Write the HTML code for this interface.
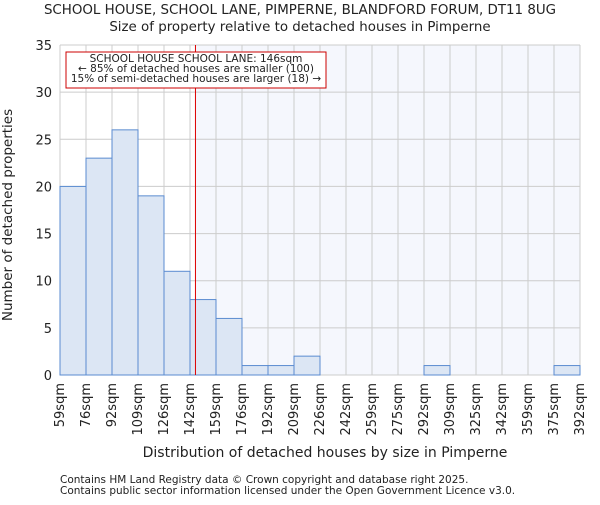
<!DOCTYPE html>
<html><head><meta charset="utf-8"><style>
body{margin:0;background:#fff;}
svg text{font-family:"DejaVu Sans","Liberation Sans",sans-serif;fill:#222;}
</style></head><body>
<svg width="600" height="500" id="chart">
<text x="300" y="14" text-anchor="middle" font-size="13.4">SCHOOL HOUSE, SCHOOL LANE, PIMPERNE, BLANDFORD FORUM, DT11 8UG</text>
<text x="300" y="31" text-anchor="middle" font-size="13.4">Size of property relative to detached houses in Pimperne</text>
<g id="plot"></g>
<text x="12" y="215" text-anchor="middle" font-size="13.5" transform="rotate(-90 12 215)">Number of detached properties</text>
<text x="325" y="457" text-anchor="middle" font-size="14">Distribution of detached houses by size in Pimperne</text>
<text x="60" y="483" font-size="10.5">Contains HM Land Registry data © Crown copyright and database right 2025.</text>
<text x="60" y="494" font-size="10.5">Contains public sector information licensed under the Open Government Licence v3.0.</text>
</svg>
<script>
const categories=["59sqm","76sqm","92sqm","109sqm","126sqm","142sqm","159sqm","176sqm","192sqm","209sqm","226sqm","242sqm","259sqm","275sqm","292sqm","309sqm","325sqm","342sqm","359sqm","375sqm","392sqm"];
const counts=[20,23,26,19,11,8,6,1,1,2,0,0,0,0,1,0,0,0,0,1];
const yTicks=[0,5,10,15,20,25,30,35];
const markerBin=5.21;
const NS="http://www.w3.org/2000/svg";
const L=60,R=580,T=45,B=375,yMax=35;
const bw=(R-L)/counts.length;
const xs=i=>L+i*bw, ys=v=>B-(v/yMax)*(B-T);
const g=document.getElementById('plot');
function mk(t,a){const e=document.createElementNS(NS,t);for(const k in a)e.setAttribute(k,a[k]);g.appendChild(e);return e;}
const mx=xs(markerBin);
let e=mk('rect',{x:mx,y:T,width:R-mx,height:B-T,fill:'#f5f7fd'});


for(let i=0;i<=counts.length;i++){e=mk('line',{x1:xs(i),x2:xs(i),y1:T,y2:B,stroke:'#cccccc','stroke-width':1});

}
yTicks.forEach(v=>{e=mk('line',{x1:L,x2:R,y1:ys(v),y2:ys(v),stroke:'#cccccc','stroke-width':1});


e=mk('text',{x:L-8,y:ys(v)+5,'text-anchor':'end','font-size':13});e.textContent=v;

});
counts.forEach((c,i)=>{if(c<=0)return;e=mk('rect',{x:xs(i),y:ys(c),width:bw,height:B-ys(c),fill:'#dce6f4',stroke:'#5a8bd0','stroke-width':1});

});
categories.forEach((c,i)=>{const x=xs(i)+4;e=mk('text',{x:x,y:B+8,'text-anchor':'end','font-size':13,transform:`rotate(-90 ${x} ${B+8})`});e.textContent=c;

});
e=mk('line',{x1:mx,x2:mx,y1:T,y2:B,stroke:'#dd0000','stroke-width':1});


e=mk('rect',{x:66,y:52,width:260,height:36,fill:'#fff',stroke:'#cc0000','stroke-width':1});


["SCHOOL HOUSE SCHOOL LANE: 146sqm","← 85% of detached houses are smaller (100)","15% of semi-detached houses are larger (18) →"].forEach((t,k)=>{e=mk('text',{x:196,y:62+k*10,'text-anchor':'middle','font-size':10.5});e.textContent=t;

});
</script>
</body></html>
